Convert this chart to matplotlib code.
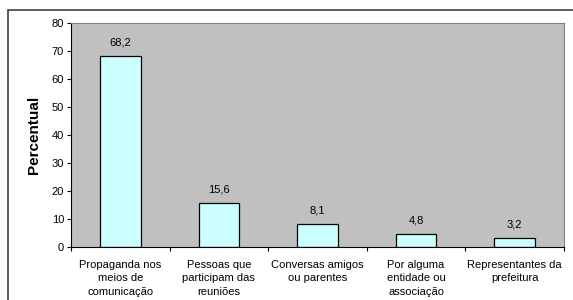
import matplotlib
matplotlib.use('Agg')
import matplotlib.pyplot as plt
from matplotlib.patches import Rectangle
import numpy as np

plt.rcParams['font.family'] = ['Liberation Sans', 'DejaVu Sans']

# dados do grafico
categorias = ['Propaganda nos\nmeios de\ncomunicação',
              'Pessoas que\nparticipam das\nreuniões',
              'Conversas amigos\nou parentes',
              'Por alguma\nentidade ou\nassociação',
              'Representantes da\nprefeitura']
valores = [68.2, 15.6, 8.1, 4.8, 3.2]
rotulos = ['68,2', '15,6', '8,1', '4,8', '3,2']

fig = plt.figure(figsize=(5.73, 3.0), dpi=100)
# moldura externa
fig.patches.append(Rectangle((8/573, -0.2), 1.2, 0.2 + 290/300, transform=fig.transFigure,
                             fill=False, edgecolor='#404040', linewidth=1.2))

ax = fig.add_axes([71/573, 1 - 247/300, (564 - 71)/573, (247 - 23)/300])
ax.set_facecolor('#C0C0C0')

x = np.arange(len(categorias))
ax.bar(x, valores, width=0.41, color='#CCFFFF', edgecolor='black', linewidth=0.9)
for xi, v, r in zip(x, valores, rotulos):
    ax.text(xi, v + 3, r, ha='center', va='bottom', fontsize=8)

ax.set_xlim(-0.5, len(categorias) - 0.5)
ax.set_ylim(0, 80)
ax.set_yticks(range(0, 81, 10))
ax.set_xticks(np.arange(-0.5, len(categorias), 1))
ax.set_xticklabels([])
ax.set_xticks(x, minor=True)
ax.set_xticklabels(categorias, minor=True, fontsize=8, linespacing=1.45)
ax.tick_params(axis='x', which='minor', length=0, pad=9)
ax.tick_params(axis='x', which='major', length=3, direction='out')
ax.tick_params(axis='y', labelsize=8, length=3, pad=2)

ax.spines['top'].set_color('#808080')
ax.spines['right'].set_color('#808080')
ax.spines['left'].set_color('black')
ax.spines['bottom'].set_color('black')

ax.set_ylabel('Percentual', fontsize=11, fontweight='bold', labelpad=8)

plt.savefig('out.png', dpi=100)
